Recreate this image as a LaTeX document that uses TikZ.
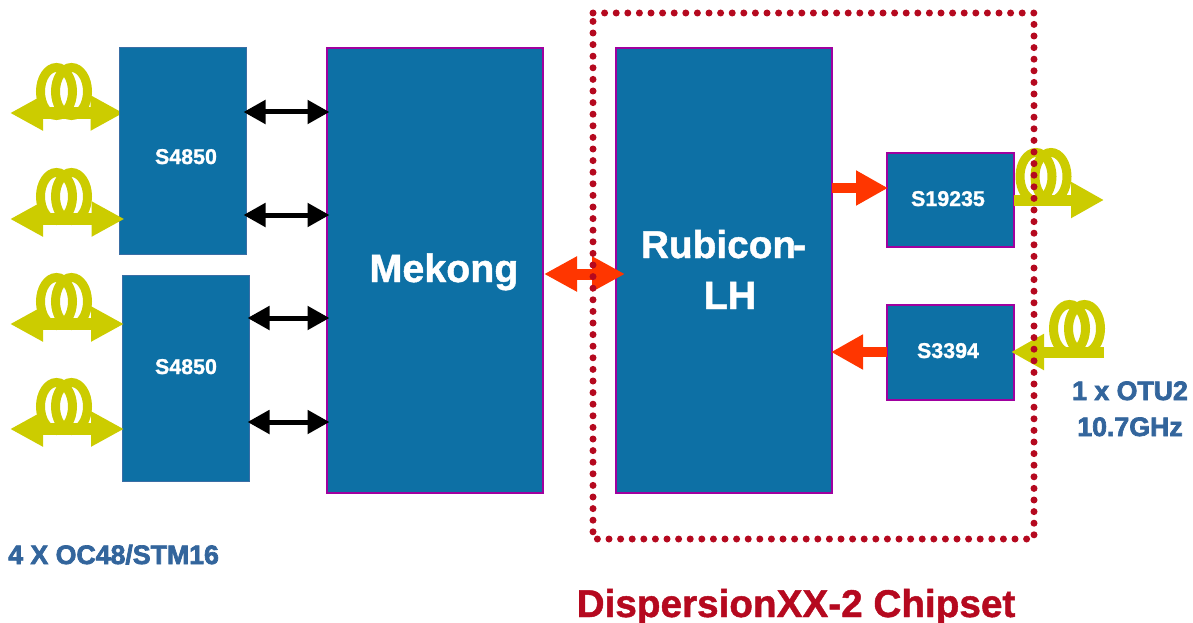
\documentclass[tikz,border=0pt]{standalone}
\usepackage{fontspec}
\setmainfont{Liberation Sans}
\newfontfamily\heavy[FakeBold=1.2]{Liberation Sans Bold}
\newfontfamily\heavier[FakeBold=2.6]{Liberation Sans Bold}
\usetikzlibrary{arrows.meta}
\definecolor{chipblue}{HTML}{0D70A5}
\definecolor{chipedge}{HTML}{A0009F}
\definecolor{thinedge}{HTML}{3A6EA5}
\definecolor{fibre}{HTML}{CCCC00}
\definecolor{hot}{HTML}{FF3600}
\definecolor{deepred}{HTML}{B5091F}
\definecolor{labelblue}{HTML}{33659C}
\tikzset{
 x=1pt,y=-1pt,
 chip/.style={draw=chipedge,line width=2.2pt,fill=chipblue,inner sep=0pt,outer sep=0pt,minimum width=#1,anchor=north west},
 chipb/.style={chip=#1,draw=thinedge,line width=1pt},
 chiptext/.style={text=white,anchor=base,inner sep=0pt,font=\heavy\fontsize{21.4}{24}\selectfont},
 bigtext/.style={text=white,anchor=base,inner sep=0pt,font=\heavy\fontsize{39.4}{44}\selectfont},
 bluetext/.style={text=labelblue,inner sep=0pt,font=\heavier\fontsize{26.7}{28}\selectfont},
 fibrein/.style={draw=fibre,line width=11pt,-{Triangle[length=33pt,width=34pt]}},
 fibrebi/.style={draw=fibre,line width=12pt,{Triangle[length=33pt,width=33pt]}-{Triangle[length=33pt,width=33pt]}},
 blackbi/.style={draw=black,line width=5pt,{Triangle[length=22pt,width=23pt]}-{Triangle[length=22pt,width=23pt]}},
 hotbi/.style={draw=hot,line width=11pt,{Triangle[length=33pt,width=33pt]}-{Triangle[length=33pt,width=33pt]}},
 hotone/.style={draw=hot,line width=10pt,-{Triangle[length=32pt,width=33pt]}},
 coil/.pic={
  \draw[fibre,line width=9pt] (-7.5,0) ellipse [x radius=16,y radius=24];
  \draw[fibre,line width=9pt] (7.5,0) ellipse [x radius=16,y radius=24];
 },
}
\begin{document}
\begin{tikzpicture}
\useasboundingbox (0,0) rectangle (1193,623);
% fibre ends
\coordinate (f1) at (10,113);
\coordinate (f1e) at (123.5,113);
\coordinate (f2) at (10,219);
\coordinate (f2e) at (124.5,219);
\coordinate (f3) at (10,324);
\coordinate (f4) at (10,429);
\coordinate (fo) at (1104,200);
\coordinate (fi) at (1104,352);
% the first fibre runs under its box
\draw[fibrebi] (f1) -- (f1e);
% boxes
\node[chipb=127pt,minimum height=206.5pt] (a) at (119.5,47.5) {};
\node[chipb=127pt,minimum height=206.5pt] (b) at (122.5,275) {};
\node[chip=216pt,minimum height=445pt] (mek) at (327,48) {};
\node[chip=216pt,minimum height=445pt] (rub) at (616,48) {};
\node[chip=127pt,minimum height=94pt] (tx) at (887,153) {};
\node[chip=127pt,minimum height=95pt] (rx) at (887,305) {};
% box labels
\node[chiptext] (ta) at (186,164) {S4850};
\node[chiptext] (tb) at (186,374) {S4850};
\node[chiptext] (ttx) at (948,206) {S19235};
\node[chiptext] (trx) at (948,358) {S3394};
\node[bigtext] (tmek) at (444,282) {Mekong};
\node[bigtext,font=\heavy\fontsize{38.8}{44}\selectfont] (trub) at (723.5,258) {Rubicon\kern-3pt-};
\node[bigtext] (tlh) at (730,309) {LH};
% fibres
\draw[fibrebi] (f2) -- (f2e);
\draw[fibrebi] (f3) -- ([xshift=1.5pt]f3 -| b.west);
\draw[fibrebi] (f4) -- ([xshift=1.5pt]f4 -| b.west);
\draw[fibrein] (fo -| tx.east) -- (fo);
\draw[fibrein] (fi) -- ([xshift=-3pt]fi -| rx.east);
\pic at (64,91.5) {coil};
\pic at (64,196.5) {coil};
\pic at (64,301.5) {coil};
\pic at (64,406.5) {coil};
\pic at (1043.5,176.5) {coil};
\pic at (1077,328.5) {coil};
% black links
\draw[blackbi] ([xshift=-3pt]a.east |- 0,112) -- ([xshift=2.5pt]mek.west |- 0,112);
\draw[blackbi] ([xshift=-3pt]a.east |- 0,215) -- ([xshift=2.5pt]mek.west |- 0,215);
\draw[blackbi] ([xshift=-2pt]b.east |- 0,318) -- ([xshift=2.5pt]mek.west |- 0,318);
\draw[blackbi] ([xshift=-2pt]b.east |- 0,422) -- ([xshift=2.5pt]mek.west |- 0,422);
% hot links
\draw[hotbi] ([xshift=1pt]mek.east |- 0,274) -- ([xshift=9pt]rub.west |- 0,274);
\draw[hotone] (rub.east |- 0,188) -- ([xshift=1pt]tx.west |- 0,188);
\draw[hotone] (rx.west |- 0,352) -- ([xshift=-1pt]rub.east |- 0,352);
% dotted frame
\draw[deepred,line width=7pt,line cap=round,dash pattern=on 0pt off 11.6pt] (593,13) -- (1034,13) -- (1034,539) -- (593,539) -- cycle;
% labels
\node[bluetext,anchor=base west] (l1) at (8,564) {4 X OC48/STM16};
\node[bluetext,anchor=base] (l2) at (1130,400) {1 x OTU2};
\node[bluetext,anchor=base] (l3) at (1130,436) {10.7GHz};
\node[text=deepred,anchor=base,inner sep=0pt,font=\heavy\fontsize{38.7}{44}\selectfont] (l4) at (796,617) {DispersionXX-2 Chipset};
\end{tikzpicture}
\end{document}
